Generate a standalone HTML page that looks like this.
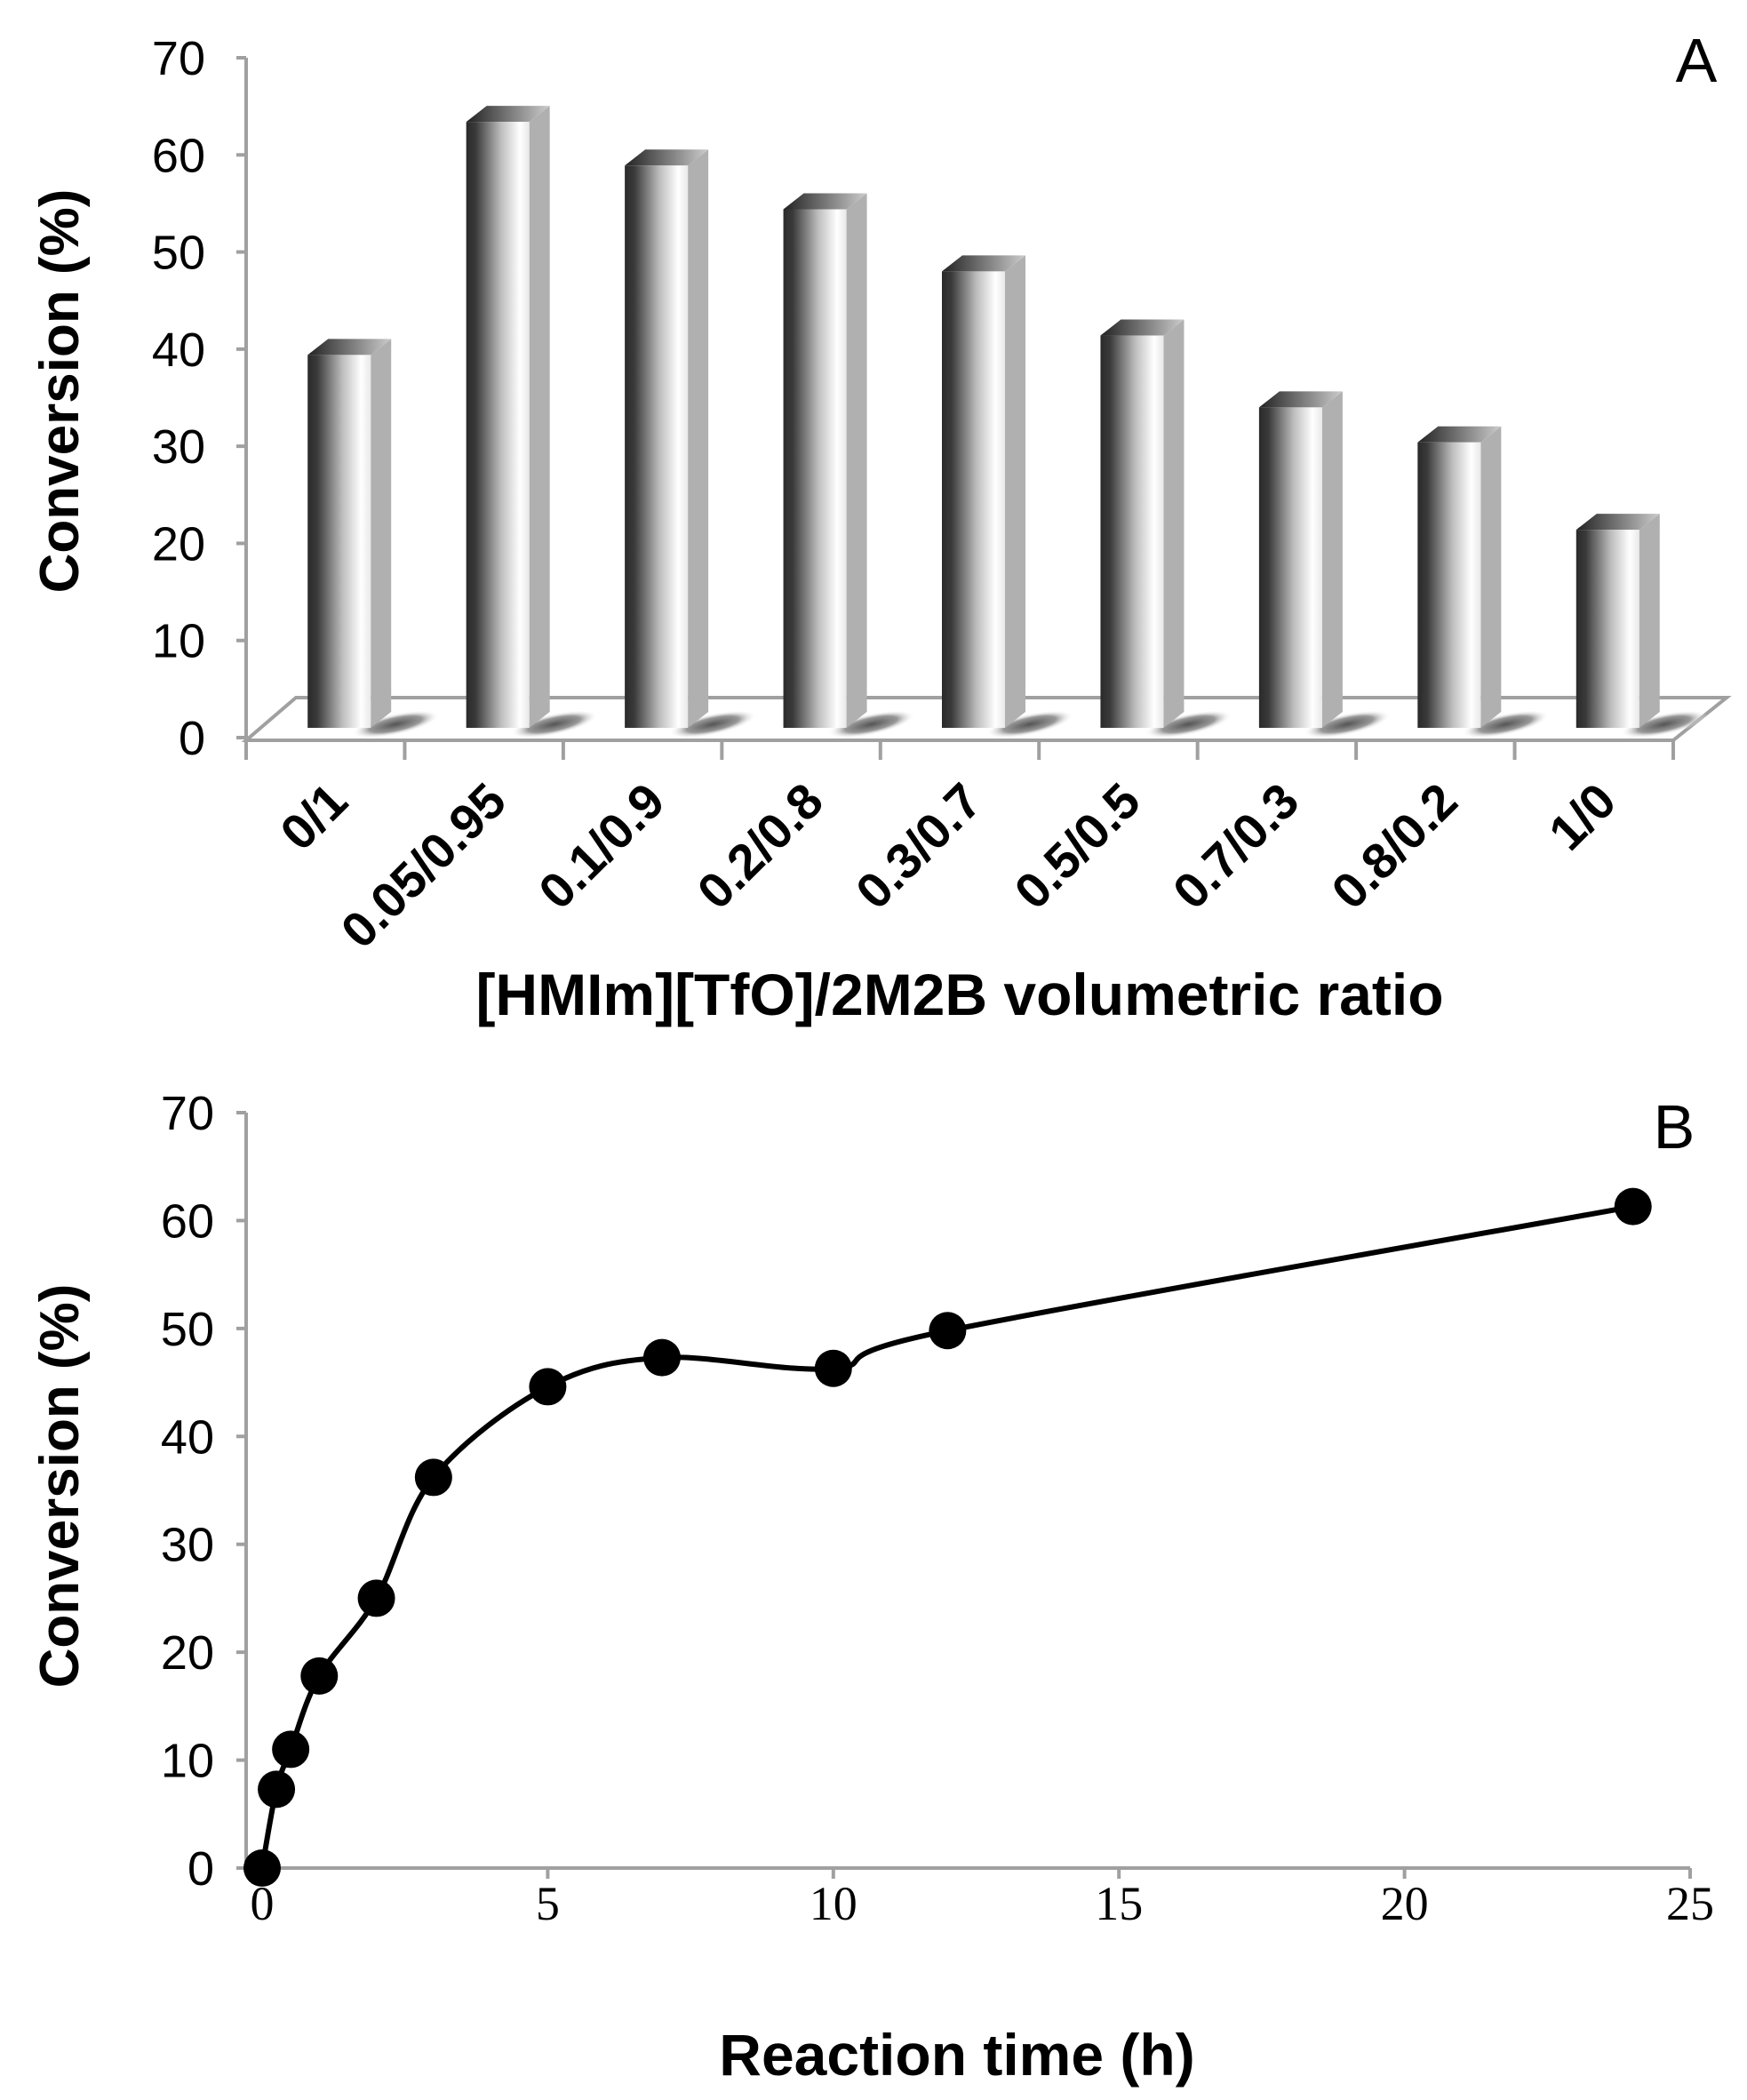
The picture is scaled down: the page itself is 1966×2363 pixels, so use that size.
<!DOCTYPE html>
<html><head><meta charset="utf-8"><style>
html,body{margin:0;padding:0;background:#fff;}
svg{display:block;}
text{font-family:"Liberation Sans",Arial,sans-serif;fill:#000;}
</style></head><body>
<svg id="fig" width="1966" height="2363" viewBox="0 0 1966 2363" xmlns="http://www.w3.org/2000/svg">
<defs>
<linearGradient id="barGrad" x1="0" x2="1" y1="0" y2="0">
<stop offset="0" stop-color="#2a2a2a"/><stop offset="0.15" stop-color="#3a3a3a"/><stop offset="0.55" stop-color="#bdbdbd"/><stop offset="0.85" stop-color="#ffffff"/><stop offset="1" stop-color="#e8e8e8"/>
</linearGradient>
<linearGradient id="topGrad" x1="0" x2="1" y1="0" y2="0">
<stop offset="0" stop-color="#222"/><stop offset="0.6" stop-color="#888"/><stop offset="1" stop-color="#ccc"/>
</linearGradient>
<radialGradient id="shadowGrad" cx="0.5" cy="0.5" r="0.5">
<stop offset="0" stop-color="#555"/><stop offset="0.6" stop-color="#999"/><stop offset="1" stop-color="#fff" stop-opacity="0"/>
</radialGradient>
</defs>
<g id="chartA"></g>
<g id="chartB"></g>
</svg>
<script>
// ---- Chart A data ----
const catsA = ["0/1","0.05/0.95","0.1/0.9","0.2/0.8","0.3/0.7","0.5/0.5","0.7/0.3","0.8/0.2","1/0"];
const valsA = [39.4, 63.4, 58.9, 54.4, 48, 41.4, 34, 30.4, 21.4];
const ticksA = [0,10,20,30,40,50,60,70];
// ---- Chart B data ----
const timesB = [0, 0.25, 0.5, 1, 2, 3, 5, 7, 10, 12, 24];
const convB = [0, 7.3, 11, 17.8, 25, 36.2, 44.6, 47.3, 46.3, 49.8, 61.3];
const xTicksB = [0,5,10,15,20,25];
const yTicksB = [0,10,20,30,40,50,60,70];

const NS="http://www.w3.org/2000/svg";
function mk(parent,tag,attrs,txt){const e=document.createElementNS(NS,tag);for(const k in attrs)e.setAttribute(k,attrs[k]);if(txt!==undefined)e.textContent=txt;parent.appendChild(e);return e;}

// ===== Chart A =====
const A=document.getElementById('chartA');
const ax0=277, ax1=1883, ay0=830, ay70=65;
const yA=v=>ay0-(v/70)*(ay0-ay70);
const catW=(ax1-ax0)/catsA.length;
const xA=i=>ax0+catW*(i+0.5);
let e=mk(A,'line',{x1:ax0,y1:ay70,x2:ax0,y2:ay0,stroke:'#a0a0a0','stroke-width':4});


ticksA.forEach(t=>{
  let l=mk(A,'line',{x1:ax0-11,y1:yA(t),x2:ax0,y2:yA(t),stroke:'#a0a0a0','stroke-width':4});
  
  
  let tx=mk(A,'text',{x:ax0-46,y:yA(t)+19,'text-anchor':'end','font-size':54},t);
  
  
});
e=mk(A,'polygon',{points:`${ax0},${ay0+3} ${ax1},${ay0+3} ${ax1+60},${ay0-45} ${ax0+56},${ay0-45}`,fill:'#fff',stroke:'#a0a0a0','stroke-width':4});


for(let i=0;i<=catsA.length;i++){
  let x=ax0+catW*i;
  let l=mk(A,'line',{x1:x,y1:ay0+3,x2:x,y2:ay0+25,stroke:'#a0a0a0','stroke-width':4});
  
  
}
const fw=71, dx=23, dy=18, bb=819;
catsA.forEach((c,i)=>{
  const left=xA(i)-20, top=yA(valsA[i]);
  let sh=mk(A,'ellipse',{cx:left+fw+28,cy:bb-4,rx:50,ry:12,fill:'url(#shadowGrad)',transform:`rotate(-12 ${left+fw+28} ${bb-4})`});
  
  
  let g=mk(A,'g',{});
  
  
  mk(g,'polygon',{points:`${left+fw},${top} ${left+fw+dx},${top-dy} ${left+fw+dx},${bb-dy} ${left+fw},${bb}`,fill:'#b0b0b0'});
  mk(g,'polygon',{points:`${left},${top} ${left+dx},${top-dy} ${left+fw+dx},${top-dy} ${left+fw},${top}`,fill:'url(#topGrad)'});
  mk(g,'rect',{x:left,y:top,width:fw,height:bb-top,fill:'url(#barGrad)'});
  let tx=mk(A,'text',{x:0,y:0,'text-anchor':'end','font-size':56,'font-weight':'bold',transform:`translate(${xA(i)+28},${905}) rotate(-45)`},c);
  
  
});
e=mk(A,'text',{x:1080,y:1142,'text-anchor':'middle','font-size':66,'font-weight':'bold'},'[HMIm][TfO]/2M2B volumetric ratio');


e=mk(A,'text',{x:0,y:0,'text-anchor':'middle','font-size':62,'font-weight':'bold',transform:'translate(88,440) rotate(-90)'},'Conversion (%)');


e=mk(A,'text',{x:1909,y:92,'text-anchor':'middle','font-size':70},'A');



// ===== Chart B =====
const B=document.getElementById('chartB');
const bx0=295, bx25=1902, by0=2102, by70=1252, bAxisX=277;
const xB=v=>bx0+v/25*(bx25-bx0);
const yB=v=>by0-v/70*(by0-by70);
e=mk(B,'line',{x1:bAxisX,y1:by70,x2:bAxisX,y2:by0,stroke:'#a0a0a0','stroke-width':4});


e=mk(B,'line',{x1:bAxisX,y1:by0,x2:xB(25),y2:by0,stroke:'#a0a0a0','stroke-width':4});


yTicksB.forEach(t=>{
  let l=mk(B,'line',{x1:bAxisX-11,y1:yB(t),x2:bAxisX,y2:yB(t),stroke:'#a0a0a0','stroke-width':4});
  
  
  let tx=mk(B,'text',{x:bAxisX-36,y:yB(t)+19,'text-anchor':'end','font-size':54},t);
  
  
});
xTicksB.forEach(t=>{
  let l=mk(B,'line',{x1:xB(t),y1:by0,x2:xB(t),y2:by0+12,stroke:'#a0a0a0','stroke-width':4});
  
  
  let tx=mk(B,'text',{x:xB(t),y:by0+58,'text-anchor':'middle','font-size':54,style:'font-family:"Liberation Serif",serif'},t);
  
  
});
const pts=timesB.map((t,i)=>[xB(t),yB(convB[i])]);
let d=`M${pts[0][0]},${pts[0][1]}`;
for(let i=0;i<pts.length-1;i++){
  const p0=pts[Math.max(0,i-1)],p1=pts[i],p2=pts[i+1],p3=pts[Math.min(pts.length-1,i+2)];
  const k=1/6;
  d+=` C${p1[0]+(p2[0]-p0[0])*k},${p1[1]+(p2[1]-p0[1])*k} ${p2[0]-(p3[0]-p1[0])*k},${p2[1]-(p3[1]-p1[1])*k} ${p2[0]},${p2[1]}`;
}
e=mk(B,'path',{d:d,fill:'none',stroke:'#000','stroke-width':6});


pts.forEach(p=>{
  let c=mk(B,'circle',{cx:p[0],cy:p[1],r:21,fill:'#000'});
  
  
});
e=mk(B,'text',{x:1077,y:2335,'text-anchor':'middle','font-size':66,'font-weight':'bold'},'Reaction time (h)');


e=mk(B,'text',{x:0,y:0,'text-anchor':'middle','font-size':62,'font-weight':'bold',transform:'translate(88,1672) rotate(-90)'},'Conversion (%)');


e=mk(B,'text',{x:1884,y:1292,'text-anchor':'middle','font-size':70},'B');


</script>
</body></html>
